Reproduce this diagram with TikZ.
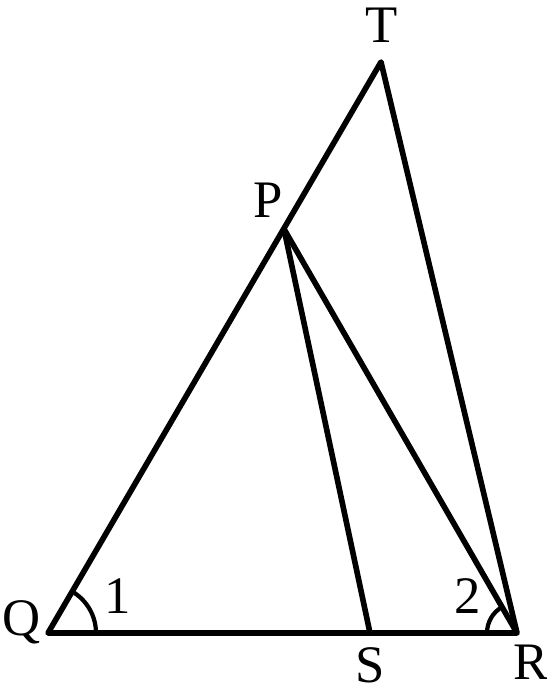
\documentclass[tikz,border=0pt]{standalone}
\usepackage{fontspec}
\setmainfont{Liberation Serif}
\usetikzlibrary{angles}
\begin{document}
\begin{tikzpicture}[x=0.02cm,y=0.02cm,line width=3.2pt,every node/.style={font=\fontsize{30}{34}\selectfont,inner sep=0pt}]
\useasboundingbox (0,0) rectangle (547,691);
% Triangle QTR, P on QT, S on QR
\coordinate (T) at (381,629);
\coordinate (Q) at (48,58);
\coordinate (R) at (517,58);
\coordinate (S) at (370,58);
\coordinate (P) at (284,462);
\draw[line join=round] (Q) -- (T) -- (R) -- cycle;
\draw (P) -- (S);
\draw (P) -- (R);
\pic[draw,line width=2.4pt,angle radius=0.96cm] {angle=R--Q--T};
\pic[draw,line width=2.4pt,angle radius=0.6cm] {angle=P--R--Q};
\node (lT) at (382,666) {T};
\node (lP) at (268,491) {P};
\node (lQ) at (22,69) {Q};
\node (lS) at (370,26) {S};
\node (lR) at (531,29) {R};
\node (l1) at (118,95) {1};
\node (l2) at (468,95) {2};
\end{tikzpicture}
\end{document}
